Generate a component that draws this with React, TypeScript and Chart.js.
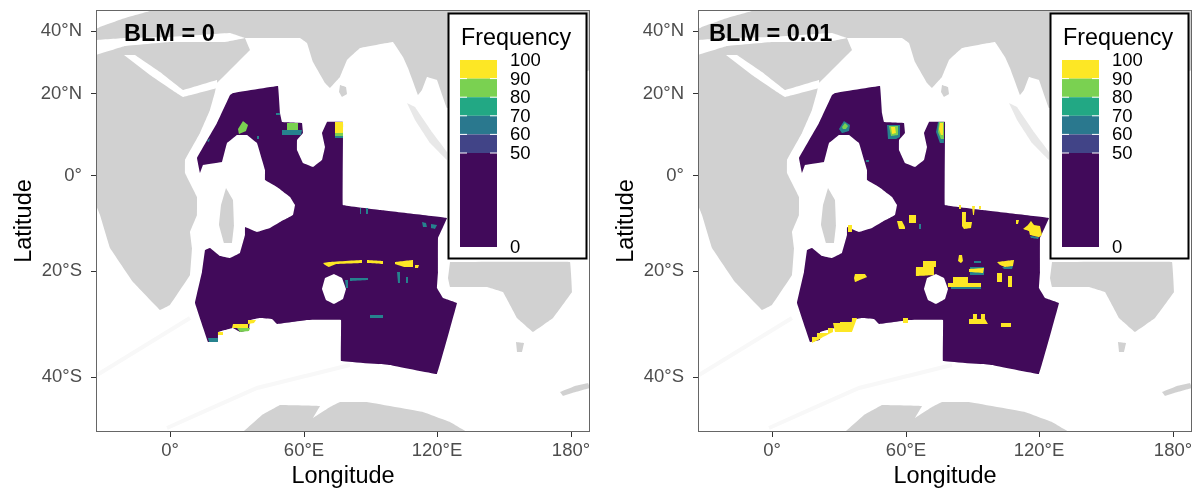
import React, { useEffect, useRef } from "react";
import { Chart, registerables } from "chart.js";

Chart.register(...registerables);

type Pt = [number, number];

// Projected map units (easting, northing) for the graticule
const X_TICKS = [74, 208, 341, 475];
const X_LABELS = ["0°", "60°E", "120°E", "180°"];
const Y_TICKS = [401, 338, 256, 161, 55];
const Y_LABELS = ["40°N", "20°N", "0°", "20°S", "40°S"];

const LEGEND_BREAKS = [100, 90, 80, 70, 60, 50, 0];

const LAND_MAIN: Pt[] = [[0,422],[494,422],[494,362],[351,324],[341,352],[331,355],[326,342],[322,337],[312,364],[307,375],[297,390],[264,384],[251,372],[244,355],[234,344],[229,349],[217,370],[211,389],[204,394],[149,394],[154,382],[121,349],[119,340],[114,322],[104,299],[89,272],[89,259],[101,235],[101,217],[94,200],[96,184],[94,157],[74,127],[64,122],[37,150],[14,184],[4,217],[0,227]];
const SEA_CORNER: Pt[] = [[0,422],[54,421],[29,414],[4,405],[0,403]];
const SEA_MED: Pt[] = [[0,392],[29,394],[74,395],[134,399],[149,394],[129,390],[74,390],[29,386],[0,377]];
const SEA_RED: Pt[] = [[28,377],[39,377],[64,360],[87,342],[121,352],[121,344],[87,335],[79,340],[54,357]];
const LAND_SRI_LANKA: Pt[] = [[244,347],[250,345],[251,338],[246,335],[243,340]];
const LAND_MALAY: Pt[] = [[311,329],[319,325],[336,300],[351,280],[351,272],[334,289],[319,312]];
const LAND_MADAGASCAR: Pt[] = [[130,244],[137,232],[138,207],[136,189],[128,189],[123,207],[125,227]];
const LAND_AUSTRALIA: Pt[] = [[354,170],[474,170],[476,140],[457,114],[437,100],[421,114],[407,140],[391,145],[354,145],[352,154]];
const LAND_TASMANIA: Pt[] = [[420,90],[428,89],[426,80],[421,80]];
const LAND_NZ: Pt[] = [[464,40],[479,46],[492,49],[494,44],[476,39],[467,36]];
const LAND_ANTARCTICA: Pt[] = [[147,0],[166,17],[184,27],[224,26],[217,14],[234,25],[244,30],[271,30],[327,20],[354,10],[371,0]];
const FAINT_A: Pt[] = [[1,57],[94,114]];
const FAINT_B: Pt[] = [[71,4],[161,44],[254,67]];

const STUDY_AREA: Pt[] = [[137,339],[182,346],[184,319],[186,310],[206,309],[207,299],[201,292],[201,282],[207,269],[217,265],[226,272],[229,285],[226,299],[231,310],[247,310],[247,227],[284,222],[351,214],[342,194],[342,160],[341,144],[347,134],[361,129],[341,58],[294,67],[245,71],[245,112],[211,112],[181,108],[176,113],[164,114],[154,112],[153,102],[144,100],[137,104],[129,102],[122,100],[122,92],[112,90],[99,129],[106,160],[109,182],[114,184],[124,176],[134,174],[144,179],[149,197],[149,205],[161,200],[174,204],[184,210],[197,217],[199,227],[194,235],[181,245],[169,252],[169,262],[161,289],[151,297],[141,297],[131,289],[126,270],[107,267],[104,259],[101,274],[121,309],[134,337]];
const ISLAND_HOLE: Pt[] = [[238,158],[246,154],[250,143],[247,133],[238,128],[230,132],[226,143],[229,154]];

// Selection-frequency patches, panel BLM = 0
const A_TEAL: Pt[][] = [
  [[180,319],[184,319],[184,317],[180,317]],
  [[161,296],[163,296],[163,293],[161,293]],
  [[111,291],[114,294],[113,290]],
  [[301,160],[304,160],[304,149],[302,149]],
  [[310,155],[312,155],[312,149],[310,149]],
  [[249,152],[252,152],[252,144],[250,144]],
  [[254,154],[272,154],[272,152],[254,151]],
  [[274,117],[287,117],[287,114],[274,114]],
  [[264,224],[265,224],[265,218],[264,218]],
  [[270,224],[272,224],[272,218],[270,218]],
  [[326,210],[330,209],[331,205],[327,205]],
  [[335,208],[341,207],[339,203],[335,204]],
  [[112,94],[122,94],[122,90],[113,90]],
  [[186,302],[206,302],[205,297],[186,297]],
  [[239,296],[247,296],[247,294],[239,294]],
];
const A_GREEN: Pt[][] = [
  [[147,311],[152,307],[150,301],[143,298],[142,303]],
  [[191,309],[202,309],[202,302],[191,302]],
  [[141,104],[154,104],[153,101],[144,100]],
  [[239,299],[247,299],[247,296],[239,296]],
];
const A_YELLOW: Pt[][] = [
  [[239,310],[247,310],[247,299],[239,299]],
  [[233,170],[266,172],[266,169],[240,168],[233,165],[229,167],[227,169]],
  [[271,172],[287,171],[287,168],[271,169]],
  [[299,170],[317,172],[317,165],[308,165],[299,168]],
  [[319,167],[323,167],[322,164],[319,164]],
  [[137,108],[152,108],[152,104],[136,104]],
  [[152,112],[160,112],[158,109],[152,108]],
  [[122,100],[127,100],[127,97],[122,97]],
];

// Selection-frequency patches, panel BLM = 0.01
const B_TEAL: Pt[][] = [
  [[146,311],[152,307],[151,301],[144,299],[141,303]],
  [[189,307],[202,307],[202,295],[198,293],[190,293]],
  [[240,310],[246,310],[246,289],[242,289],[238,300]],
  [[168,272],[171,272],[171,270],[168,270]],
  [[276,171],[283,171],[283,169],[276,169]],
  [[221,208],[223,208],[223,203],[221,203]],
  [[272,165],[286,165],[286,157],[272,157]],
  [[253,145],[283,145],[283,143],[253,143]],
  [[304,165],[315,166],[314,163],[306,163]],
  [[332,196],[341,195],[340,193],[333,194]],
];
const B_GREEN: Pt[][] = [
  [[147,309],[150,306],[148,303],[145,303],[144,305]],
  [[191,306],[200,306],[200,297],[193,296]],
  [[241,310],[246,310],[246,293],[243,293],[240,300]],
];
const B_YELLOW: Pt[][] = [
  [[193,305],[197,305],[198,299],[194,298]],
  [[242,309],[245,309],[245,297],[243,297],[241,303]],
  [[199,211],[204,211],[207,205],[207,203],[201,203]],
  [[211,217],[218,217],[218,209],[211,209]],
  [[264,220],[268,220],[268,210],[274,210],[273,204],[266,203],[264,206]],
  [[274,226],[277,226],[276,217],[275,217]],
  [[261,227],[263,227],[263,223],[261,223]],
  [[281,226],[283,226],[283,223],[281,223]],
  [[330,207],[333,211],[336,207],[342,206],[344,197],[341,195],[332,197],[331,201],[325,203]],
  [[318,212],[321,212],[320,208],[318,208]],
  [[150,207],[154,207],[154,200],[150,200]],
  [[225,171],[238,171],[238,165],[236,165],[236,157],[218,156],[218,165],[225,165]],
  [[261,177],[264,177],[265,171],[263,169],[260,171]],
  [[157,158],[167,158],[169,155],[162,152],[157,150],[156,154]],
  [[271,163],[286,164],[285,159],[271,160]],
  [[255,155],[270,155],[270,149],[283,149],[283,145],[250,145],[250,149],[255,149]],
  [[299,170],[316,172],[315,166],[307,165],[302,167]],
  [[299,159],[304,159],[304,150],[299,150]],
  [[310,156],[314,156],[314,145],[310,145]],
  [[271,113],[275,113],[275,118],[279,118],[279,113],[283,113],[283,118],[287,118],[287,113],[290,108],[271,108]],
  [[303,109],[313,109],[313,105],[303,105]],
  [[205,114],[210,114],[210,109],[205,109]],
  [[135,109],[142,109],[142,110],[154,110],[154,114],[159,114],[154,100],[137,100]],
  [[114,95],[119,95],[119,99],[125,99],[125,95],[122,93],[114,89]],
  [[125,99],[130,99],[130,104],[135,104],[135,100],[125,95]],
];

const COLORS = {
  land: "#d1d1d1",
  landPale: "#e8e8e8",
  faint: "#f8f8f8",
  sea: "#ffffff",
  purple: "#410a5a",
  teal: "#26828e",
  green: "#7ad151",
  yellow: "#fde725",
};
const BAND_COLORS = ["#fde725", "#7ad151", "#22a884", "#2a788e", "#414487", "#410a5a"];
const FONT = "'Liberation Sans', Arial, sans-serif";

const poly = (pts: Pt[], color: string) => ({
  data: pts.map(([x, y]) => ({ x, y })),
  showLine: true,
  fill: "shape" as const,
  backgroundColor: color,
  borderColor: color,
  borderWidth: 0,
  tension: 0.02,
  pointRadius: 0,
  pointHoverRadius: 0,
});
const line = (pts: Pt[], color: string, width: number) => ({
  data: pts.map(([x, y]) => ({ x, y })),
  showLine: true,
  fill: false,
  borderColor: color,
  borderWidth: width,
  tension: 0.02,
  pointRadius: 0,
});

function buildDatasets(teal: Pt[][], green: Pt[][], yellow: Pt[][]) {
  const painted = [
    poly(LAND_MAIN, COLORS.land),
    poly(SEA_CORNER, COLORS.sea),
    poly(SEA_MED, COLORS.sea),
    poly(SEA_RED, COLORS.sea),
    poly(LAND_SRI_LANKA, COLORS.land),
    poly(LAND_MALAY, COLORS.landPale),
    poly(LAND_MADAGASCAR, COLORS.land),
    poly(LAND_AUSTRALIA, COLORS.land),
    poly(LAND_TASMANIA, COLORS.land),
    poly(LAND_NZ, COLORS.land),
    poly(LAND_ANTARCTICA, COLORS.land),
    line(FAINT_A, COLORS.faint, 4),
    line(FAINT_B, COLORS.faint, 4),
    poly(STUDY_AREA, COLORS.purple),
    poly(ISLAND_HOLE, COLORS.sea),
    ...teal.map((p) => poly(p, COLORS.teal)),
    ...green.map((p) => poly(p, COLORS.green)),
    ...yellow.map((p) => poly(p, COLORS.yellow)),
  ];
  return painted.reverse();
}

const decorPlugin = (label: string, labelX: number) => ({
  id: "decor",
  afterDraw(chart: any) {
    const { ctx, chartArea: a } = chart;
    ctx.save();
    // panel label
    ctx.fillStyle = "#000";
    ctx.font = `bold 23.5px ${FONT}`;
    ctx.textBaseline = "alphabetic";
    ctx.textAlign = "left";
    ctx.fillText(label, a.left + labelX, 41);

    // legend box
    const lx = a.left + 352.5, ly = 13.5, lw = 138, lh = 245;
    ctx.fillStyle = "#fff";
    ctx.fillRect(lx, ly, lw, lh);
    const bx = a.left + 364, bw = 37;
    const rowY = [60, 78.6, 97.2, 115.8, 134.4, 153, 247];
    for (let i = 0; i < BAND_COLORS.length; i++) {
      ctx.fillStyle = BAND_COLORS[i];
      ctx.fillRect(bx, rowY[i], bw, rowY[i + 1] - rowY[i]);
    }
    ctx.strokeStyle = "#fff";
    ctx.lineWidth = 1;
    for (let i = 1; i < 6; i++) {
      ctx.beginPath();
      ctx.moveTo(bx, rowY[i]); ctx.lineTo(bx + 7, rowY[i]);
      ctx.moveTo(bx + bw - 7, rowY[i]); ctx.lineTo(bx + bw, rowY[i]);
      ctx.stroke();
    }
    ctx.strokeStyle = "#000";
    ctx.lineWidth = 2;
    ctx.strokeRect(lx, ly, lw, lh);
    ctx.fillStyle = "#000";
    ctx.font = `23.3px ${FONT}`;
    ctx.fillText("Frequency", a.left + 365, 45);
    ctx.font = `18.5px ${FONT}`;
    ctx.textBaseline = "middle";
    LEGEND_BREAKS.forEach((b, i) => ctx.fillText(String(b), a.left + 414, rowY[i] + 1));

    // panel border
    ctx.strokeStyle = "#666";
    ctx.lineWidth = 1;
    ctx.strokeRect(a.left + 0.5, a.top + 0.5, a.right - a.left - 1, a.bottom - a.top - 1);
    ctx.restore();
  },
});

function Panel({ label, labelX, left, teal, green, yellow }: { label: string; labelX: number; left: number; teal: Pt[][]; green: Pt[][]; yellow: Pt[][] }) {
  const ref = useRef<HTMLCanvasElement>(null);
  useEffect(() => {
    const chart = new Chart(ref.current as HTMLCanvasElement, {
      type: "scatter",
      data: { datasets: buildDatasets(teal, green, yellow) as any },
      plugins: [decorPlugin(label, labelX)],
      options: {
        animation: false,
        responsive: false,
        layout: { padding: { top: 10, right: 4, left: 0, bottom: 0 } },
        plugins: { legend: { display: false }, tooltip: { enabled: false } },
        events: [],
        scales: {
          x: {
            type: "linear",
            min: 0,
            max: 494,
            afterBuildTicks: (s: any) => { s.ticks = X_TICKS.map((value) => ({ value })); },
            afterFit: (s: any) => { s.height = 59; s.paddingLeft = 0; s.paddingRight = 0; },
            ticks: {
              autoSkip: false,
              maxRotation: 0,
              padding: 3,
              color: "#4d4d4d",
              font: { family: FONT, size: 18.5 },
              callback: (_v: any, i: number) => X_LABELS[i],
            },
            grid: { drawOnChartArea: false, drawTicks: true, tickLength: 5, color: "#333" },
            border: { display: false },
            title: { display: true, text: "Longitude", color: "#000", font: { family: FONT, size: 23.5 }, padding: { top: 3, bottom: 0 } },
          },
          y: {
            type: "linear",
            min: 0,
            max: 422,
            afterBuildTicks: (s: any) => { s.ticks = Y_TICKS.map((value) => ({ value })); },
            afterFit: (s: any) => { s.width = 96; s.paddingTop = 0; s.paddingBottom = 0; },
            ticks: {
              autoSkip: false,
              padding: 9,
              color: "#4d4d4d",
              font: { family: FONT, size: 18.5 },
              callback: (_v: any, i: number) => Y_LABELS[i],
            },
            grid: { drawOnChartArea: false, drawTicks: true, tickLength: 5, color: "#333" },
            border: { display: false },
            title: { display: true, text: "Latitude", color: "#000", font: { family: FONT, size: 23.5 }, padding: { top: 10, bottom: 0 } },
          },
        },
      } as any,
    });
    return () => chart.destroy();
  }, []);
  return <canvas ref={ref} width={594} height={491} style={{ position: "absolute", left, top: 0, display: "block" }} />;
}

export default function App() {
  return (
    <div style={{ position: "absolute", left: 0, top: 0, width: 1196, height: 491, background: "#fff", overflow: "hidden" }}>
      <Panel label="BLM = 0" labelX={28} left={0} teal={A_TEAL} green={A_GREEN} yellow={A_YELLOW} />
      <Panel label="BLM = 0.01" labelX={11} left={602} teal={B_TEAL} green={B_GREEN} yellow={B_YELLOW} />
    </div>
  );
}
